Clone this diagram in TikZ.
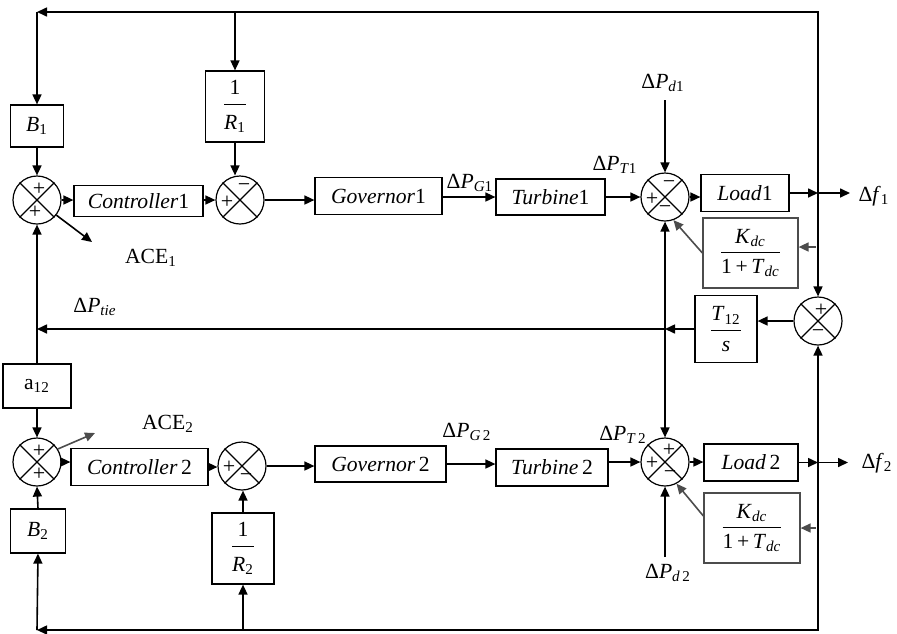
\documentclass[tikz,border=0pt]{standalone}
\usepackage{fontspec}
\setmainfont{Liberation Serif}
\usepackage{amsmath}
\usetikzlibrary{arrows.meta}
\colorlet{kgray}{black!70}
\newcommand\sumnd[2]{%
  \node[sumc] (#1) at (#2) {};
  \draw[line width=0.6pt] (#1.north east) -- (#1.south west) (#1.north west) -- (#1.south east);}
\begin{document}
\begin{tikzpicture}[x=0.5pt,y=-0.5pt,line width=0.8pt,
  >={Triangle[length=5pt,width=4.5pt]},
  font=\fontsize{10.8}{12}\selectfont,
  blk/.style={draw,line width=0.6pt,inner sep=0pt,minimum width=#1},
  sumc/.style={draw,circle,line width=0.6pt,minimum size=24pt,inner sep=0pt},
  sgnst/.style={inner sep=0pt,font=\fontsize{11}{11}\selectfont},
  lbl/.style={inner sep=0pt}]
\useasboundingbox (0,0) rectangle (897,633);

% ---------- area 1 blocks ----------
\node[blk=26.5pt,minimum height=21pt] (B1) at (37,126) {\textit{B}\textsubscript{1}};
\node[blk=29.5pt,minimum height=35.5pt] (R1) at (235,106.5) {$\dfrac{\text{1}\rule[-2pt]{0pt}{2pt}}{\text{\textit{R}\textsubscript{1}}\rule{0pt}{11pt}}$};
\sumnd{s1}{37,200}
\node[blk=64.5pt,minimum height=15.5pt] (C1) at (138.5,201) {\textit{Controller}1};
\sumnd{s2}{240,200}
\node[blk=63.5pt,minimum height=18.5pt] (G1) at (378.5,196) {\textit{Governor}1};
\node[blk=54.5pt,minimum height=18pt] (T1) at (550.5,197) {\textit{Turbine}1};
\sumnd{s3}{665,197}
\node[blk=44pt,minimum height=18.5pt] (L1) at (745,193) {\textit{Load}1};
\node[blk=47.5pt,minimum height=35pt,draw=kgray] (K1) at (750.5,253) {$\dfrac{\text{\,\textit{K}\textsubscript{\textit{dc}}\,}}{\text{1\,+\,\textit{T}\textsubscript{\textit{dc}}}}$};
\node[blk=31pt,minimum height=33.5pt] (T12) at (726,329) {$\dfrac{\text{\textit{T}\textsubscript{12}}}{\text{\textit{s}}\rule{0pt}{9pt}}$};
\sumnd{s5}{818,321}
\node[blk=34pt,minimum height=22pt] (a12) at (37,386) {a\textsubscript{12}};

% ---------- area 2 blocks ----------
\sumnd{s6}{37,462}
\node[blk=68.5pt,minimum height=18.5pt] (C2) at (139.5,467) {\textit{Controller}\,2};
\sumnd{s7}{242,466}
\node[blk=31pt,minimum height=35.5pt] (R2) at (243,548.5) {$\dfrac{\text{1}\rule[-2pt]{0pt}{2pt}}{\text{\textit{R}\textsubscript{2}}\rule{0pt}{11pt}}$};
\node[blk=27.5pt,minimum height=22pt] (B2) at (38,531) {\textit{B}\textsubscript{2}};
\node[blk=65.5pt,minimum height=18pt] (G2) at (380.5,464) {\textit{Governor}\,2};
\node[blk=56pt,minimum height=18.5pt] (T2) at (552,467.5) {\textit{Turbine}\,2};
\sumnd{s8}{665,462}
\node[blk=47pt,minimum height=18.5pt] (L2) at (751,462.5) {\textit{Load}\,2};
\node[blk=48pt,minimum height=35pt,draw=kgray] (K2) at (752,528) {$\dfrac{\text{\,\textit{K}\textsubscript{\textit{dc}}\,}}{\text{1\,+\,\textit{T}\textsubscript{\textit{dc}}}}$};

% ---------- signs ----------
\node[sgnst] at ([xshift=1pt,yshift=5.5pt]s1.center) {+};
\node[sgnst] at ([xshift=-1pt,yshift=-6pt]s1.center) {+};
\node[sgnst] at ([xshift=2pt,yshift=6pt]s2.center) {−};
\node[sgnst] at ([xshift=-6.5pt,yshift=-1pt]s2.center) {+};
\node[sgnst] at ([xshift=2pt,yshift=6pt]s3.center) {−};
\node[sgnst] at ([xshift=-6.5pt,yshift=-1pt]s3.center) {+};
\node[sgnst] at ([xshift=0pt,yshift=-6.5pt]s3.center) {−};
\node[sgnst] at ([xshift=1.5pt,yshift=5.5pt]s5.center) {+};
\node[sgnst] at ([xshift=0pt,yshift=-6.5pt]s5.center) {−};
\node[sgnst] at ([xshift=1pt,yshift=5.5pt]s6.center) {+};
\node[sgnst] at ([xshift=1pt,yshift=-6pt]s6.center) {+};
\node[sgnst] at ([xshift=-6.5pt,yshift=-0.5pt]s7.center) {+};
\node[sgnst] at ([xshift=2pt,yshift=-6pt]s7.center) {−};
\node[sgnst] at ([xshift=2pt,yshift=6pt]s8.center) {+};
\node[sgnst] at ([xshift=-6.5pt,yshift=-0.5pt]s8.center) {+};
\node[sgnst] at ([xshift=2.5pt,yshift=-6.5pt]s8.center) {−};

% ---------- coordinates ----------
\coordinate (TL) at (37,12);
\coordinate (TM) at (235,12);
\coordinate (TR) at (818,12);
\coordinate (J1) at (818,193);
\coordinate (F1) at (850,193);
\coordinate (KJ1) at (816,247);
\coordinate (JT) at (665,329);
\coordinate (TLL) at (37,329);
\coordinate (J2) at (818,462.5);
\coordinate (F2) at (848,462.5);
\coordinate (KJ2) at (816,528);
\coordinate (BR) at (818,630);
\coordinate (BM) at (243,630);
\coordinate (BL) at (37,630);
\coordinate (D1) at (665,100);
\coordinate (D2) at (665,557);
\coordinate (A1) at (92,242);
\coordinate (A2) at (95,433);

% ---------- area 1 connectors ----------
\draw[->] (J1) -- (TR) -- (TL);
\draw[->] (TL) -- (B1.north);
\draw[->] (TM) -- (R1.north);
\draw[->] (B1.south) -- (s1.north);
\draw[->] (R1.south) -- (R1.south |- s2.north);
\draw[->] (s1.east) -- (s1.east -| C1.west);
\draw[->] (C1.east |- s2.west) -- (s2.west);
\draw[->] (s2.east) -- (s2.east -| G1.west);
\draw[->] (G1.east |- T1.west) -- (T1.west);
\draw[->] (T1.east |- s3.west) -- (s3.west);
\draw[->] (s3.east) -- (s3.east -| L1.west);
\draw[->] (L1.east) -- (J1);
\draw[->] (J1) -- (F1);
\draw[->] (J1) -- (s5.north);
\draw[->,kgray] (KJ1) -- (KJ1 -| K1.east);
\draw[->,kgray] (K1.west) -- (s3.-70);
\draw[->] (D1) -- (s3.north);
\draw[->] (s1.-38) -- (A1);
\draw[->] (s5.west) -- (s5.west -| T12.east);
\draw[->] (T12.west) -- (JT);
\draw[->] (JT) -- (TLL);
\draw[->] (JT) -- (s3.south);
\draw[->] (JT) -- (s8.north);
\draw[->] (a12.north) -- (s1.south);
\draw[->] (a12.south) -- (s6.north);

% ---------- area 2 connectors ----------
\draw[->] (s6.east) -- (s6.east -| C2.west);
\draw[->] (C2.east) -- (C2.east -| s7.west);
\draw[->] (s7.east) -- (s7.east -| G2.west);
\draw[->] (G2.east) -- (G2.east -| T2.west);
\draw[->] (T2.east |- s8.west) -- (s8.west);
\draw[->] (s8.east) -- (s8.east -| L2.west);
\draw[->] (L2.east) -- (J2);
\draw[->] (J2) -- (F2);
\draw[->] (J2) -- (s5.south);
\draw[->] (J2) -- (BR) -- (BL);
\draw[->] (BL) -- (B2.south);
\draw[->] (B2.north) -- (s6.south);
\draw[->] (BM) -- (R2.south);
\draw[->] (R2.north) -- (R2.north |- s7.south);
\draw[->,kgray] (KJ2) -- (KJ2 -| K2.east);
\draw[->,kgray] ([yshift=6pt]K2.west) -- (s8.-62);
\draw[->] (D2) -- (s8.south);
\draw[->,kgray] (s6.32) -- (A2);

% ---------- labels ----------
\node[lbl] (lPG1) at (470,183) {Δ\textit{P}\textsubscript{\textit{G}1}};
\node[lbl] (lPT1) at (615,165) {Δ\textit{P}\textsubscript{\textit{T}1}};
\node[lbl] (lPd1) at (663,83) {Δ\textit{P}\textsubscript{\textit{d}1}};
\node[lbl] (lf1) at (874,196) {Δ\textit{f}\textsubscript{1}};
\node[lbl] (lACE1) at (151,258) {ACE\textsubscript{1}};
\node[lbl] (ltie) at (95,307) {Δ\textit{P}\textsubscript{\textit{tie}}};
\node[lbl] (lACE2) at (168,424) {ACE\textsubscript{2}};
\node[lbl] (lPG2) at (467,432) {Δ\textit{P}\textsubscript{\textit{G}\,2}};
\node[lbl] (lPT2) at (623,435) {Δ\textit{P}\textsubscript{\textit{T}\,2}};
\node[lbl] (lPd2) at (668,573) {Δ\textit{P}\textsubscript{\textit{d}\,2}};
\node[lbl] (lf2) at (877,463) {Δ\textit{f}\textsubscript{2}};
\end{tikzpicture}
\end{document}
